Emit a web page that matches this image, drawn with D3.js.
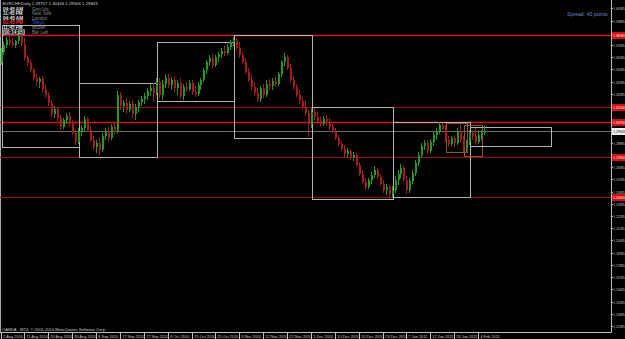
<!DOCTYPE html>
<html>
<head>
<meta charset="utf-8">
<script src="https://cdn.jsdelivr.net/npm/d3@7"></script>
<style>
  html, body { margin: 0; padding: 0; background: #000; overflow: hidden; }
  svg { display: block; font-family: "Liberation Sans", Arial, sans-serif; }
</style>
</head>
<body>
<svg width="625" height="339"></svg>
<script>
// EURCHF daily bars, 2 Aug 2010 -> 7 Feb 2011 (Sunday bars included)
const opens = [
  1.3615, 1.3705, 1.3768, 1.3813, 1.3786, 1.3768, 1.3804, 1.3849, 1.3777, 1.3651,
  1.3606, 1.3543, 1.3471, 1.3435, 1.3462, 1.3372, 1.3318, 1.3246, 1.3147, 1.3192,
  1.3111, 1.3030, 1.3093, 1.3129, 1.3066, 1.2976, 1.2895, 1.2994, 1.3021, 1.3102,
  1.3003, 1.2913, 1.2850, 1.2886, 1.2823, 1.2949, 1.2994, 1.2931, 1.3030, 1.2985,
  1.3318, 1.3219, 1.3246, 1.3183, 1.3237, 1.3147, 1.3210, 1.3255, 1.3282, 1.3309,
  1.3354, 1.3381, 1.3336, 1.3435, 1.3318, 1.3417, 1.3471, 1.3408, 1.3453, 1.3381,
  1.3426, 1.3309, 1.3390, 1.3372, 1.3426, 1.3345, 1.3327, 1.3408, 1.3453, 1.3543,
  1.3615, 1.3651, 1.3588, 1.3660, 1.3687, 1.3714, 1.3696, 1.3750, 1.3795, 1.3813,
  1.3741, 1.3678, 1.3615, 1.3525, 1.3453, 1.3390, 1.3336, 1.3282, 1.3381, 1.3318,
  1.3417, 1.3399, 1.3444, 1.3417, 1.3507, 1.3615, 1.3660, 1.3561, 1.3453, 1.3390,
  1.3318, 1.3264, 1.3210, 1.3156, 1.3057, 1.3165, 1.3120, 1.3084, 1.3057, 1.3102,
  1.3066, 1.3030, 1.2985, 1.2931, 1.2877, 1.2832, 1.2787, 1.2814, 1.2760, 1.2778,
  1.2688, 1.2607, 1.2535, 1.2490, 1.2553, 1.2598, 1.2643, 1.2580, 1.2517, 1.2463,
  1.2490, 1.2427, 1.2463, 1.2553, 1.2607, 1.2661, 1.2553, 1.2463, 1.2544, 1.2616,
  1.2706, 1.2778, 1.2859, 1.2886, 1.2814, 1.2895, 1.2958, 1.2994, 1.3048, 1.3012,
  1.2913, 1.2877, 1.2931, 1.2886, 1.2994, 1.2913, 1.2841, 1.2895, 1.2976, 1.2949,
  1.2895, 1.2958, 1.29757
];
const highs = [
  1.3741, 1.3795, 1.3840, 1.3849, 1.3831, 1.3813, 1.3876, 1.3858, 1.3831, 1.3678,
  1.3633, 1.3561, 1.3507, 1.3480, 1.3489, 1.3408, 1.3345, 1.3273, 1.3219, 1.3210,
  1.3138, 1.3111, 1.3156, 1.3165, 1.3093, 1.3003, 1.3021, 1.3048, 1.3129, 1.3120,
  1.3039, 1.2949, 1.2913, 1.2931, 1.2976, 1.3021, 1.3030, 1.3057, 1.3066, 1.3354,
  1.3345, 1.3273, 1.3291, 1.3264, 1.3273, 1.3237, 1.3273, 1.3309, 1.3336, 1.3381,
  1.3417, 1.3426, 1.3471, 1.3471, 1.3453, 1.3498, 1.3507, 1.3480, 1.3489, 1.3453,
  1.3471, 1.3417, 1.3435, 1.3453, 1.3453, 1.3399, 1.3435, 1.3471, 1.3561, 1.3633,
  1.3678, 1.3687, 1.3678, 1.3705, 1.3741, 1.3759, 1.3777, 1.3813, 1.3840, 1.3831,
  1.3795, 1.3705, 1.3651, 1.3561, 1.3507, 1.3435, 1.3381, 1.3399, 1.3417, 1.3453,
  1.3462, 1.3471, 1.3480, 1.3525, 1.3633, 1.3696, 1.3678, 1.3597, 1.3489, 1.3417,
  1.3363, 1.3300, 1.3273, 1.3183, 1.3201, 1.3201, 1.3165, 1.3120, 1.3129, 1.3138,
  1.3111, 1.3057, 1.3021, 1.2958, 1.2904, 1.2868, 1.2841, 1.2832, 1.2805, 1.2796,
  1.2715, 1.2643, 1.2571, 1.2571, 1.2625, 1.2679, 1.2661, 1.2607, 1.2553, 1.2517,
  1.2508, 1.2499, 1.2589, 1.2643, 1.2697, 1.2688, 1.2589, 1.2571, 1.2643, 1.2733,
  1.2805, 1.2886, 1.2913, 1.2913, 1.2922, 1.2985, 1.3021, 1.3075, 1.3066, 1.3048,
  1.2949, 1.2949, 1.2958, 1.3021, 1.3048, 1.2949, 1.2913, 1.3003, 1.3003, 1.3021,
  1.2985, 1.3003, 1.30434
];
const lows = [
  1.3588, 1.3678, 1.3741, 1.3759, 1.3750, 1.3741, 1.3777, 1.3759, 1.3633, 1.3579,
  1.3525, 1.3453, 1.3399, 1.3381, 1.3345, 1.3291, 1.3219, 1.3120, 1.3111, 1.3084,
  1.3003, 1.3012, 1.3057, 1.3039, 1.2958, 1.2868, 1.2877, 1.2949, 1.2994, 1.2985,
  1.2895, 1.2823, 1.2796, 1.2778, 1.2805, 1.2913, 1.2904, 1.2913, 1.2958, 1.2967,
  1.3183, 1.3165, 1.3147, 1.3165, 1.3111, 1.3093, 1.3165, 1.3219, 1.3237, 1.3273,
  1.3309, 1.3264, 1.3318, 1.3291, 1.3273, 1.3381, 1.3381, 1.3363, 1.3345, 1.3318,
  1.3282, 1.3273, 1.3345, 1.3354, 1.3318, 1.3300, 1.3309, 1.3363, 1.3435, 1.3507,
  1.3579, 1.3561, 1.3570, 1.3615, 1.3651, 1.3669, 1.3678, 1.3723, 1.3759, 1.3723,
  1.3651, 1.3597, 1.3507, 1.3435, 1.3363, 1.3309, 1.3255, 1.3255, 1.3291, 1.3300,
  1.3363, 1.3363, 1.3390, 1.3399, 1.3480, 1.3579, 1.3543, 1.3435, 1.3363, 1.3300,
  1.3237, 1.3183, 1.3129, 1.2940, 1.3021, 1.3093, 1.3057, 1.3030, 1.3039, 1.3039,
  1.3003, 1.2967, 1.2913, 1.2859, 1.2814, 1.2760, 1.2751, 1.2733, 1.2724, 1.2670,
  1.2589, 1.2517, 1.2463, 1.2472, 1.2517, 1.2571, 1.2562, 1.2499, 1.2436, 1.2418,
  1.2400, 1.2391, 1.2436, 1.2508, 1.2571, 1.2535, 1.2427, 1.2436, 1.2517, 1.2589,
  1.2679, 1.2751, 1.2823, 1.2787, 1.2796, 1.2859, 1.2913, 1.2967, 1.3003, 1.2895,
  1.2850, 1.2859, 1.2850, 1.2868, 1.2895, 1.2805, 1.2805, 1.2868, 1.2913, 1.2868,
  1.2877, 1.2913, 1.29566
];
const closes = [
  1.3705, 1.3768, 1.3813, 1.3786, 1.3768, 1.3804, 1.3849, 1.3777, 1.3651, 1.3606,
  1.3543, 1.3471, 1.3435, 1.3462, 1.3372, 1.3318, 1.3246, 1.3147, 1.3192, 1.3111,
  1.3030, 1.3093, 1.3129, 1.3066, 1.2976, 1.2895, 1.2994, 1.3021, 1.3102, 1.3003,
  1.2913, 1.2850, 1.2886, 1.2823, 1.2949, 1.2994, 1.2931, 1.3030, 1.2985, 1.3318,
  1.3219, 1.3246, 1.3183, 1.3237, 1.3147, 1.3210, 1.3255, 1.3282, 1.3309, 1.3354,
  1.3381, 1.3336, 1.3435, 1.3318, 1.3417, 1.3471, 1.3408, 1.3453, 1.3381, 1.3426,
  1.3309, 1.3390, 1.3372, 1.3426, 1.3345, 1.3327, 1.3408, 1.3453, 1.3543, 1.3615,
  1.3651, 1.3588, 1.3660, 1.3687, 1.3714, 1.3696, 1.3750, 1.3795, 1.3813, 1.3741,
  1.3678, 1.3615, 1.3525, 1.3453, 1.3390, 1.3336, 1.3282, 1.3381, 1.3318, 1.3417,
  1.3399, 1.3444, 1.3417, 1.3507, 1.3615, 1.3660, 1.3561, 1.3453, 1.3390, 1.3318,
  1.3264, 1.3210, 1.3156, 1.3057, 1.3165, 1.3120, 1.3084, 1.3057, 1.3102, 1.3066,
  1.3030, 1.2985, 1.2931, 1.2877, 1.2832, 1.2787, 1.2814, 1.2760, 1.2778, 1.2688,
  1.2607, 1.2535, 1.2490, 1.2553, 1.2598, 1.2643, 1.2580, 1.2517, 1.2463, 1.2490,
  1.2427, 1.2463, 1.2553, 1.2607, 1.2661, 1.2553, 1.2463, 1.2544, 1.2616, 1.2706,
  1.2778, 1.2859, 1.2886, 1.2814, 1.2895, 1.2958, 1.2994, 1.3048, 1.3012, 1.2913,
  1.2877, 1.2931, 1.2886, 1.2994, 1.2913, 1.2841, 1.2895, 1.2976, 1.2949, 1.2895,
  1.2958, 1.2976, 1.29943
];

// axis labels
const priceTicks = [
  1.40985, 1.39885, 1.38785, 1.37685, 1.36585, 1.35485, 1.34385, 1.33285, 1.32185,
  1.31085, 1.29985, 1.28885, 1.27785, 1.26685, 1.25585, 1.24485, 1.23385, 1.22285,
  1.21185, 1.20085, 1.18985, 1.17885, 1.16785, 1.15685, 1.14585, 1.13485, 1.12385
];
const dateLabels = [
  "2 Aug 2010", "11 Aug 2010", "20 Aug 2010", "30 Aug 2010", "8 Sep 2010", "17 Sep 2010",
  "27 Sep 2010", "6 Oct 2010", "15 Oct 2010", "25 Oct 2010", "3 Nov 2010", "12 Nov 2010",
  "22 Nov 2010", "1 Dec 2010", "10 Dec 2010", "20 Dec 2010", "29 Dec 2010", "7 Jan 2011",
  "17 Jan 2011", "26 Jan 2011", "4 Feb 2011"
];

// horizontal levels and boxes drawn on the chart
const levelPrices = [1.3858, 1.3210, 1.3075, 1.2760, 1.2400];
const bidPrice = 1.29943;
const boxFrom  = [0, 26, 52, 78, 104, 131, 149, 155, 157];
const boxTo    = [26, 52, 78, 104, 131, 157, 156, 161, 184];
const boxHigh  = [1.3948, 1.3426, 1.3795, 1.3858, 1.3210, 1.3075, 1.3066, 1.3048, 1.3030];
const boxLow   = [1.2850, 1.2760, 1.3264, 1.2931, 1.2382, 1.2400, 1.2805, 1.2769, 1.2859];

const clockTimes = ["04:45 AM", "11:45 PM", "04:45 AM", "01:45 PM", "11:45 PM"];
const clockZones = ["Gmt,Utc", "New York", "London", "Tokyo", "Broker"];

const svg = d3.select("svg"),
      axisX = 611.5,
      axisY = 332.5;

svg.append("rect").attr("width", 625).attr("height", 339).attr("fill", "#000");

const x = d3.scaleLinear().domain([0, 160]).range([1.5, 479.1]);
const y = d3.scaleLinear().domain([1.1176, 1.4173]).range([333, 0]);
const fmt5 = d3.format(".5f");

// bar dates (MT4 feed has Sunday bars, no Saturdays)
const barDates = [];
for (let t = Date.UTC(2010, 7, 2); barDates.length < closes.length; t += 864e5) {
  const d = new Date(t);
  if (d.getUTCDay() !== 6) barDates.push(d);
}
const dayFmt = d3.utcFormat("%-d %b %Y");

// frame
svg.append("line").attr("x1", 0.5).attr("x2", 0.5).attr("y1", 0).attr("y2", axisY)
  .attr("stroke", "#a8a8a8");

// levels
svg.selectAll("line.level").data(levelPrices).join("line")
  .attr("class", "level")
  .attr("x1", 0).attr("x2", axisX)
  .attr("y1", d => Math.round(y(d)) + 0.5).attr("y2", d => Math.round(y(d)) + 0.5)
  .attr("stroke", (d, i) => (i === 0 || i === 2) ? "#d81010" : "#9a0c0c")
  .attr("stroke-width", (d, i) => (i === 0 || i === 2) ? 1.5 : 1);

// bid line
svg.append("line")
  .attr("x1", 0).attr("x2", axisX)
  .attr("y1", Math.round(y(bidPrice)) + 0.5).attr("y2", Math.round(y(bidPrice)) + 0.5)
  .attr("stroke", "#6a6a6a");

// boxes
svg.selectAll("rect.box").data(boxFrom).join("rect")
  .attr("class", "box")
  .attr("x", (d, i) => Math.round(x(d)) + 0.5)
  .attr("y", (d, i) => Math.round(y(boxHigh[i])) + 0.5)
  .attr("width", (d, i) => Math.round(x(boxTo[i])) - Math.round(x(d)))
  .attr("height", (d, i) => Math.round(y(boxLow[i])) - Math.round(y(boxHigh[i])))
  .attr("fill", "none")
  .attr("stroke", (d, i) => (i === 6 || i === 7) ? "#8e5238" : "#b4b4b4")
  .attr("stroke-width", 1);

// candles
const bars = closes.map((c, i) => ({ i, o: opens[i], h: highs[i], l: lows[i], c }));
const bull = "#1f9c1f", bear = "#a81b1b";
const candles = svg.append("g");
candles.selectAll("line").data(bars).join("line")
  .attr("x1", d => Math.round(x(d.i)) - 0.5).attr("x2", d => Math.round(x(d.i)) - 0.5)
  .attr("y1", d => y(d.h)).attr("y2", d => y(d.l))
  .attr("stroke", d => d.c >= d.o ? bull : bear);
candles.selectAll("rect").data(bars).join("rect")
  .attr("x", d => Math.round(x(d.i)) - 1)
  .attr("width", 2)
  .attr("y", d => y(Math.max(d.o, d.c)))
  .attr("height", d => Math.max(1, Math.abs(y(d.o) - y(d.c))))
  .attr("fill", d => d.c >= d.o ? bull : bear);

// price axis
svg.append("rect").attr("x", axisX).attr("y", 0).attr("width", 14).attr("height", 339).attr("fill", "#000");
svg.append("line").attr("x1", axisX).attr("x2", axisX).attr("y1", 0).attr("y2", axisY)
  .attr("stroke", "#bfbfbf");
const tagYs = levelPrices.concat([bidPrice]).map(p => y(p));
const pt = svg.append("g").selectAll("g")
  .data(priceTicks.filter(p => tagYs.every(t => Math.abs(t - y(p)) > 5)))
  .join("g")
  .attr("transform", d => `translate(0,${Math.round(y(d)) + 0.5})`);
pt.append("line").attr("x1", axisX).attr("x2", axisX + 1.5).attr("stroke", "#bfbfbf");
pt.append("text").attr("x", axisX + 1.8).attr("dy", "0.35em")
  .attr("font-size", 3.2).attr("fill", "#c8c8c8").text(d => fmt5(d));

// level tags on the axis
const tags = svg.append("g").selectAll("g").data(levelPrices).join("g")
  .attr("transform", d => `translate(0,${Math.round(y(d)) + 0.5})`);
tags.append("rect").attr("x", axisX + 0.5).attr("y", -3.5).attr("width", 13).attr("height", 7)
  .attr("fill", "#d01010");
tags.append("text").attr("x", axisX + 1.8).attr("dy", "0.35em")
  .attr("font-size", 3.2).attr("fill", "#fff").text(d => fmt5(d));
const bidTag = svg.append("g").attr("transform", `translate(0,${Math.round(y(bidPrice)) + 0.5})`);
bidTag.append("rect").attr("x", axisX + 0.5).attr("y", -3.5).attr("width", 13).attr("height", 7)
  .attr("fill", "#f0f0f0");
bidTag.append("text").attr("x", axisX + 1.8).attr("dy", "0.35em")
  .attr("font-size", 3.2).attr("fill", "#000").text(fmt5(bidPrice));

// time axis
svg.append("line").attr("x1", 0).attr("x2", axisX).attr("y1", axisY).attr("y2", axisY)
  .attr("stroke", "#bfbfbf");
const dt = svg.append("g").selectAll("g")
  .data(dateLabels.map(s => ({ s, i: barDates.findIndex(d => dayFmt(d) === s) })))
  .join("g")
  .attr("transform", d => `translate(${Math.round(x(d.i)) - 0.5},0)`);
dt.append("line").attr("y1", axisY).attr("y2", 339).attr("stroke", "#bfbfbf");
dt.append("text").attr("x", 1.8).attr("y", 337.6)
  .attr("font-size", 3.9).attr("fill", "#c8c8c8").text(d => d.s);

// header and clock panel
svg.append("text").attr("x", 2.5).attr("y", 5)
  .attr("font-size", 4.3).attr("fill", "#d0d0d0")
  .text("EURCHF,Daily  1.29757 1.30434 1.29566 1.29943");

const rows = svg.append("g").selectAll("g").data(clockTimes).join("g")
  .attr("transform", (d, i) => `translate(0,${10.5 + i * 4.6})`);
rows.append("text").attr("x", 3).attr("font-size", 4.6).attr("font-weight", "bold")
  .attr("fill", (d, i) => i === 3 ? "#ff3535" : "#e8e8e8").text(d => d);
rows.append("text").attr("x", 32).attr("font-size", 4.6)
  .attr("fill", (d, i) => i === 3 ? "#3a58d8" : "#8a8a8a").text((d, i) => clockZones[i]);

svg.append("rect").attr("x", 2.5).attr("y", 29.5).attr("width", 22).attr("height", 5)
  .attr("fill", "none").attr("stroke", "#a0a0a0").attr("stroke-width", 0.6);
svg.append("text").attr("x", 3).attr("y", 33.6).attr("font-size", 4.6).attr("font-weight", "bold")
  .attr("fill", "#e8e8e8").text("[00:14:05]");
svg.append("text").attr("x", 32).attr("y", 33.6).attr("font-size", 4.6)
  .attr("fill", "#8a8a8a").text("Bar Left");

svg.append("text").attr("x", 567).attr("y", 15.5).attr("font-size", 5.2)
  .attr("fill", "#6c8cc0").text("Spread: 40 points");

svg.append("text").attr("x", 2).attr("y", 330.5).attr("font-size", 4.1)
  .attr("fill", "#c8c8c8").text("OANDA - MT4, © 2001-2010 MetaQuotes Software Corp.");
</script>
</body>
</html>
